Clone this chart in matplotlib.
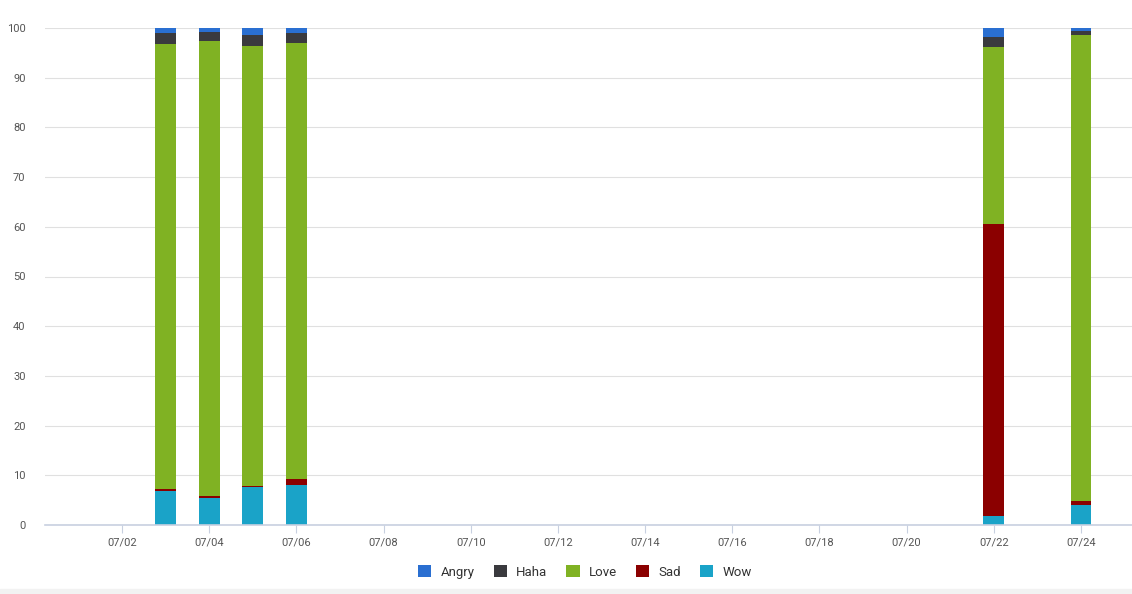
import matplotlib
matplotlib.use("Agg")
import matplotlib.pyplot as plt
import matplotlib.dates as mdates
from matplotlib.patches import Rectangle
import numpy as np
import datetime as dt

plt.rcParams['font.family'] = ['Roboto', 'DejaVu Sans']

dates = ["2020-07-03", "2020-07-04", "2020-07-05", "2020-07-06", "2020-07-22", "2020-07-24"]
wow = [6.9, 5.5, 7.6, 8.0, 1.8, 4.0]
sad = [0.4, 0.4, 0.3, 1.3, 58.8, 0.8]
love = [89.5, 91.5, 88.5, 87.7, 35.6, 93.7]
haha = [2.2, 1.8, 2.2, 2.0, 2.0, 0.9]
angry = [1.0, 0.8, 1.4, 1.0, 1.8, 0.6]

series = [("Wow", wow, "#1AA3C8"), ("Sad", sad, "#8B0000"), ("Love", love, "#80B223"),
          ("Haha", haha, "#3A3A3E"), ("Angry", angry, "#2A6FD1")]
tick_dates = ["2020-07-%02d" % d for d in range(2, 25, 2)]

fig = plt.figure(figsize=(11.32, 5.94), dpi=100)
fig.patches.append(Rectangle((0, 0), 1, 5/594, transform=fig.transFigure, color="#F2F2F2", zorder=0))
ax = fig.add_axes([45/1132, 69/594, 1 - 45/1132, (525-28)/594])

x = mdates.date2num([dt.datetime.strptime(d, "%Y-%m-%d") for d in dates])
bottom = np.zeros(len(x))
handles = {}
for name, vals, col in series:
    vals = np.array(vals)
    b = ax.bar(x, vals, width=0.48, bottom=bottom, color=col, linewidth=0, zorder=3)
    handles[name] = b
    bottom += vals

t0 = mdates.date2num(dt.datetime(2020, 7, 2))
ax.set_xlim(t0 - 1.766, t0 + 23.17)
ax.set_ylim(0, 100)
ticks = mdates.date2num([dt.datetime.strptime(d, "%Y-%m-%d") for d in tick_dates])
ax.set_xticks(ticks)
ax.set_xticklabels([d[5:].replace("-", "/") for d in tick_dates])
ax.set_yticks(range(0, 101, 10))
ax.tick_params(axis='x', length=6, color="#C8D0E0", labelsize=8, labelcolor="#555555", pad=3)
ax.tick_params(axis='y', length=0, labelsize=8, labelcolor="#555555", pad=14)
ax.grid(axis='y', color="#E0E0E0", linewidth=0.8, zorder=0)
for s in ["top", "right", "left"]:
    ax.spines[s].set_visible(False)
ax.spines["bottom"].set_color("#C8D0E0")
ax.spines["bottom"].set_linewidth(1.2)
ax.spines["bottom"].set_zorder(4)

order = ["Angry", "Haha", "Love", "Sad", "Wow"]
leg = fig.legend([handles[n] for n in order], order, loc="center", bbox_to_anchor=(585/1132, 1 - 572/594),
                 ncol=5, frameon=False, fontsize=9.5, handlelength=1.0, handleheight=1.0,
                 columnspacing=1.45, handletextpad=0.7)
for t in leg.get_texts():
    t.set_color("#333333")

fig.savefig("out.png", dpi=100)
